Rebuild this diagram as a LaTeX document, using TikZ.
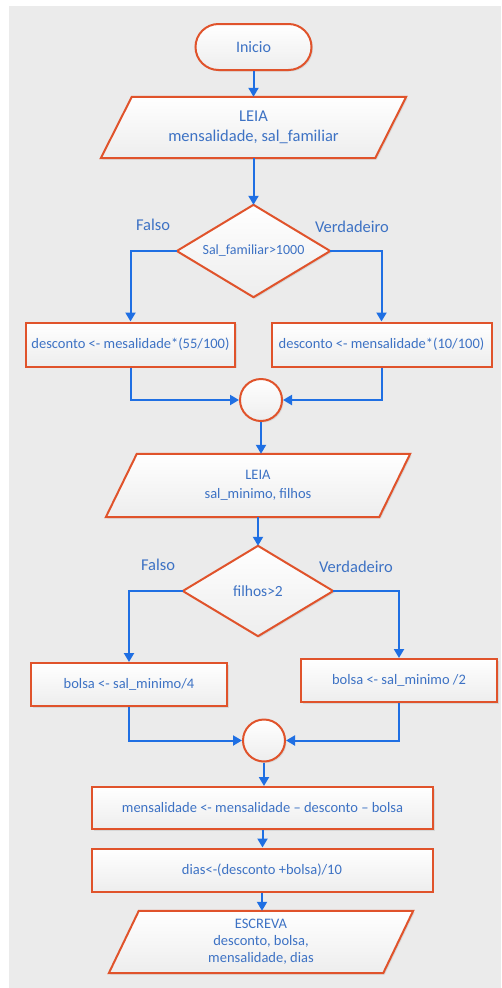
\documentclass[tikz,border=0pt]{standalone}
\usepackage{fontspec}
\setmainfont{Carlito}
\usetikzlibrary{arrows.meta,shapes.geometric,calc,shadows}
\definecolor{panel}{HTML}{EBEBEB}
\definecolor{edge}{HTML}{E0532B}
\definecolor{flow}{HTML}{1F6FE3}
\definecolor{ink}{HTML}{3D72C4}
\begin{document}
\begin{tikzpicture}[x=1pt,y=-1pt,
  font=\fontsize{14.5}{19}\selectfont, text=ink,
  shapefill/.style={top color=white,bottom color=black!7,
    drop shadow={opacity=0.18,shadow xshift=1.5pt,shadow yshift=-1.5pt}},
  outline/.style={draw=edge,line width=2pt,line join=miter},
  ghost/.style={rectangle,inner sep=0pt,align=center},
  procbox/.style={ghost,outline,shapefill},
  joint/.style={circle,outline,shapefill,minimum size=42pt,inner sep=0pt},
  terminal/.style={ghost,outline,shapefill,rounded corners=23pt,minimum width=116pt,minimum height=46pt},
  link/.style={draw=flow,line width=2pt,-{Triangle[length=9pt,width=10pt]}},
  branch/.style={font=\fontsize{16.5}{19}\selectfont},
]
% background panel
\useasboundingbox (0,0) rectangle (501,988);
\fill[white] (0,0) rectangle (501,988);
\fill[panel] (9,6) rectangle (501,988);

% start
\node[terminal,font=\fontsize{16}{19}\selectfont] (ini) at (253.5,47) {Inicio};

% input 1
\node[ghost,minimum width=305pt,minimum height=61pt] (in1) at (253.5,127.5) {};
\draw[outline,shapefill] ($(in1.north west)+(31,0)$) -- (in1.north east) -- ($(in1.south east)-(31,0)$) -- (in1.south west) -- cycle;
\node[ghost,font=\fontsize{16.5}{20}\selectfont] at (in1) {LEIA\\mensalidade, sal\_familiar};

% decision 1
\node[ghost,minimum width=153pt,minimum height=92pt] (d1) at (253.5,251) {};
\draw[outline,shapefill] (d1.north) -- (d1.east) -- (d1.south) -- (d1.west) -- cycle;
\node[ghost,font=\fontsize{14}{16}\selectfont] at (d1) {Sal\_familiar>1000};
\node[branch] (f1) at (153,225) {Falso};
\node[branch] (v1) at (352,227) {Verdadeiro};

% branches 1
\node[procbox,minimum width=209pt,minimum height=44pt] (b1) at (130.5,344.5) {desconto <- mesalidade*(55/100)};
\node[procbox,minimum width=220pt,minimum height=44pt] (b2) at (381.5,344.5) {desconto <- mensalidade*(10/100)};
\node[joint] (j1) at (261,400) {};

% input 2
\node[ghost,minimum width=304pt,minimum height=63pt] (in2) at (258,485.5) {};
\draw[outline,shapefill] ($(in2.north west)+(31,0)$) -- (in2.north east) -- ($(in2.south east)-(31,0)$) -- (in2.south west) -- cycle;
\node[ghost] at (in2) {LEIA\\sal\_minimo, filhos};

% decision 2
\node[ghost,minimum width=150pt,minimum height=90pt] (d2) at (258,591) {};
\draw[outline,shapefill] (d2.north) -- (d2.east) -- (d2.south) -- (d2.west) -- cycle;
\node[ghost,font=\fontsize{15.5}{18}\selectfont] at (d2) {filhos>2};
\node[branch] (f2) at (158,565) {Falso};
\node[branch] (v2) at (356,567) {Verdadeiro};

% branches 2
\node[procbox,minimum width=196pt,minimum height=43pt] (b3) at (129,684.5) {bolsa <- sal\_minimo/4};
\node[procbox,minimum width=196pt,minimum height=43pt] (b4) at (399,680.5) {bolsa <- sal\_minimo /2};
\node[joint] (j2) at (264,740.5) {};

% assignments
\node[procbox,minimum width=341pt,minimum height=42pt] (a1) at (262.5,808) {mensalidade <- mensalidade -- desconto -- bolsa};
\node[procbox,minimum width=341pt,minimum height=43pt] (a2) at (262,870) {dias<-(desconto +bolsa)/10};

% output
\node[ghost,minimum width=304pt,minimum height=62pt] (out) at (261,942) {};
\draw[outline,shapefill] ($(out.north west)+(30,0)$) -- (out.north east) -- ($(out.south east)-(30,0)$) -- (out.south west) -- cycle;
\node[ghost,font=\fontsize{14.5}{17}\selectfont] at (out) {ESCREVA\\desconto, bolsa,\\mensalidade, dias};

% connectors
\draw[link] (ini.south) -- (ini.south |- in1.north);
\draw[link] (in1.south -| d1.north) -- (d1.north);
\draw[link] (d1.west) -| (b1.north);
\draw[link] (d1.east) -| (b2.north);
\draw[link] (b1.south) |- (j1.west);
\draw[link] (b2.south) |- (j1.east);
\draw[link] (j1.south) -- (j1.south |- in2.north);
\draw[link] (in2.south -| d2.north) -- (d2.north);
\draw[link] (d2.west) -| (b3.north);
\draw[link] (d2.east) -| (b4.north);
\draw[link] (b3.south) |- (j2.west);
\draw[link] (b4.south) |- (j2.east);
\draw[link] (j2.south) -- (j2.south |- a1.north);
\draw[link] (a1.south) -- (a1.south |- a2.north);
\draw[link] (a2.south) -- (a2.south |- out.north);
\end{tikzpicture}
\end{document}
